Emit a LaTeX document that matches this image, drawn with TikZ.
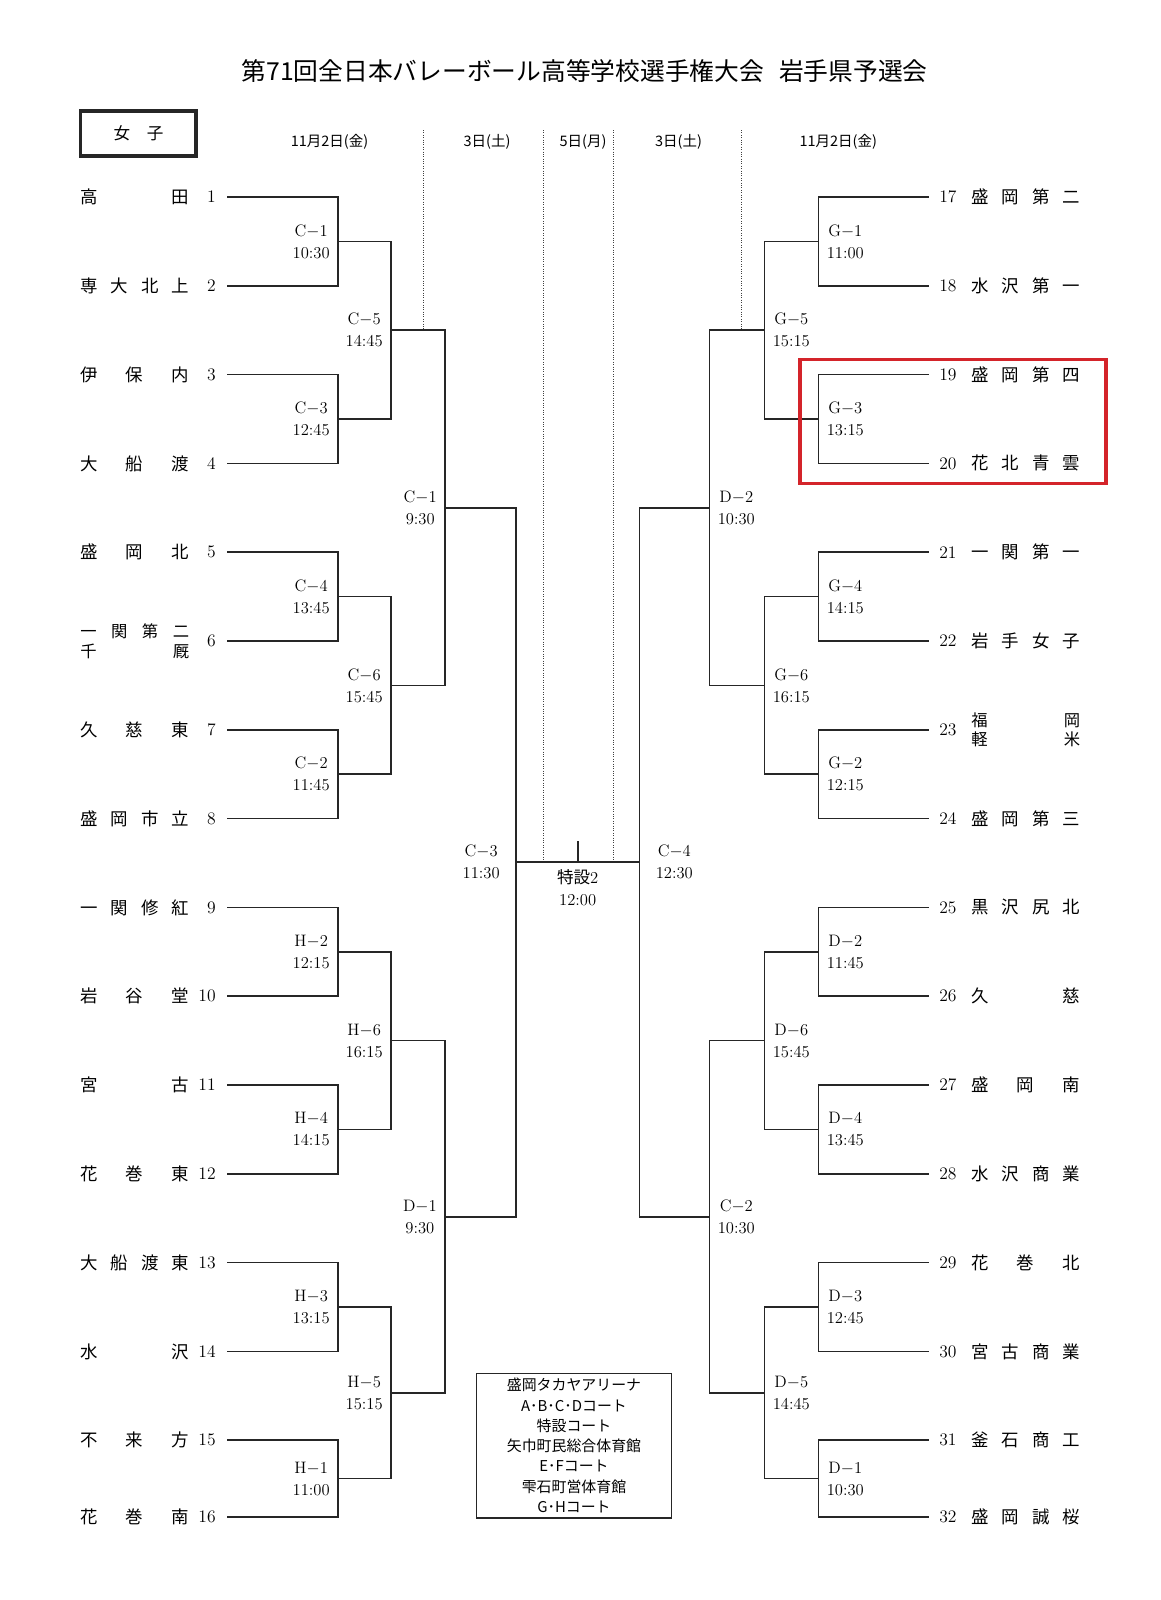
\documentclass[tikz,border=0pt]{standalone}
\usepackage{fontspec}
\newfontfamily\jpfont{Noto Sans CJK JP}
\usepackage{xcolor}
\usepackage{tikz}
\definecolor{markred}{RGB}{212,36,42}
\tikzset{
  brline/.style={line width=1.15pt, draw=black!85, line cap=rect},
  daysep/.style={line width=0.7pt, draw=black!75, densely dotted},
  tnum/.style={inner sep=0pt, font=\fontsize{12.5}{14}\selectfont},
  tname/.style={inner sep=0pt, anchor=west, font=\jpfont\fontsize{12.4}{14}\selectfont},
  tnametwo/.style={tname, align=left, font=\jpfont\fontsize{11.6}{14}\selectfont},
  mlabel/.style={inner sep=0pt, align=center, font=\fontsize{11.8}{15.6}\selectfont},
  mlabl/.style={mlabel, anchor=east, xshift=-0.2cm},
  mlabr/.style={mlabel, anchor=west, xshift=0.2cm},
  dayhead/.style={inner sep=0pt, font=\jpfont\fontsize{10.3}{12}\selectfont},
  hilite/.style={line width=2.2pt, draw=markred},
}
\newcommand{\teamname}[1]{\makebox[2.72cm]{#1}}

\begin{document}
\begin{tikzpicture}[x=0.025cm, y=-0.025cm]
\useasboundingbox (0,0) rectangle (1161,1600);

% heading
\node[font=\jpfont\fontsize{17.6}{20}\selectfont] (title) at (584.6,71.4)
  {第71回全日本バレーボール高等学校選手権大会\hspace{0.6em}岩手県予選会};
\draw[line width=2.3pt, draw=black!85] (80.5,111) rectangle (196,156);
\node[font=\jpfont\fontsize{11.8}{12}\selectfont] (sex) at (138.5,133) {女\quad 子};
\node[dayhead] (d1) at (329.5,141.8) {11月2日(金)};
\node[dayhead] (d2) at (487,141.8) {3日(土)};
\node[dayhead] (d3) at (583,141.8) {5日(月)};
\node[dayhead] (d4) at (678.5,141.8) {3日(土)};
\node[dayhead] (d5) at (838.3,141.8) {11月2日(金)};
\draw[daysep] (423,130) -- (423,330.2);
\draw[daysep] (543.3,130) -- (543.3,862.25);
\draw[daysep] (613.3,130) -- (613.3,862.25);
\draw[daysep] (741,130) -- (741,330.2);

% left teams
\node[tnum, anchor=east] (n1) at (216,197.0) {1};
\node[tname] (t1) at (80,197.0) {\teamname{高\hfill 田}};
\node[tnum, anchor=east] (n2) at (216,285.8) {2};
\node[tname] (t2) at (80,285.8) {\teamname{専\hfill 大\hfill 北\hfill 上}};
\node[tnum, anchor=east] (n3) at (216,374.6) {3};
\node[tname] (t3) at (80,374.6) {\teamname{伊\hfill 保\hfill 内}};
\node[tnum, anchor=east] (n4) at (216,463.4) {4};
\node[tname] (t4) at (80,463.4) {\teamname{大\hfill 船\hfill 渡}};
\node[tnum, anchor=east] (n5) at (216,552.2) {5};
\node[tname] (t5) at (80,552.2) {\teamname{盛\hfill 岡\hfill 北}};
\node[tnum, anchor=east] (n6) at (216,641.0) {6};
\node[tnametwo] (t6) at (80,641.0) {\teamname{一\hfill 関\hfill 第\hfill 二}\\\teamname{千\hfill 厩}};
\node[tnum, anchor=east] (n7) at (216,729.8) {7};
\node[tname] (t7) at (80,729.8) {\teamname{久\hfill 慈\hfill 東}};
\node[tnum, anchor=east] (n8) at (216,818.6) {8};
\node[tname] (t8) at (80,818.6) {\teamname{盛\hfill 岡\hfill 市\hfill 立}};
\node[tnum, anchor=east] (n9) at (216,907.4) {9};
\node[tname] (t9) at (80,907.4) {\teamname{一\hfill 関\hfill 修\hfill 紅}};
\node[tnum, anchor=east] (n10) at (216,996.2) {10};
\node[tname] (t10) at (80,996.2) {\teamname{岩\hfill 谷\hfill 堂}};
\node[tnum, anchor=east] (n11) at (216,1085.0) {11};
\node[tname] (t11) at (80,1085.0) {\teamname{宮\hfill 古}};
\node[tnum, anchor=east] (n12) at (216,1173.8) {12};
\node[tname] (t12) at (80,1173.8) {\teamname{花\hfill 巻\hfill 東}};
\node[tnum, anchor=east] (n13) at (216,1262.6) {13};
\node[tname] (t13) at (80,1262.6) {\teamname{大\hfill 船\hfill 渡\hfill 東}};
\node[tnum, anchor=east] (n14) at (216,1351.4) {14};
\node[tname] (t14) at (80,1351.4) {\teamname{水\hfill 沢}};
\node[tnum, anchor=east] (n15) at (216,1440.2) {15};
\node[tname] (t15) at (80,1440.2) {\teamname{不\hfill 来\hfill 方}};
\node[tnum, anchor=east] (n16) at (216,1517.0) {16};
\node[tname] (t16) at (80,1517.0) {\teamname{花\hfill 巻\hfill 南}};

% right teams
\node[tnum, anchor=west] (n17) at (939,197.0) {17};
\node[tname] (t17) at (971,197.0) {\teamname{盛\hfill 岡\hfill 第\hfill 二}};
\node[tnum, anchor=west] (n18) at (939,285.8) {18};
\node[tname] (t18) at (971,285.8) {\teamname{水\hfill 沢\hfill 第\hfill 一}};
\node[tnum, anchor=west] (n19) at (939,374.6) {19};
\node[tname] (t19) at (971,374.6) {\teamname{盛\hfill 岡\hfill 第\hfill 四}};
\node[tnum, anchor=west] (n20) at (939,463.4) {20};
\node[tname] (t20) at (971,463.4) {\teamname{花\hfill 北\hfill 青\hfill 雲}};
\node[tnum, anchor=west] (n21) at (939,552.2) {21};
\node[tname] (t21) at (971,552.2) {\teamname{一\hfill 関\hfill 第\hfill 一}};
\node[tnum, anchor=west] (n22) at (939,641.0) {22};
\node[tname] (t22) at (971,641.0) {\teamname{岩\hfill 手\hfill 女\hfill 子}};
\node[tnum, anchor=west] (n23) at (939,729.8) {23};
\node[tnametwo] (t23) at (971,729.8) {\teamname{福\hfill 岡}\\\teamname{軽\hfill 米}};
\node[tnum, anchor=west] (n24) at (939,818.6) {24};
\node[tname] (t24) at (971,818.6) {\teamname{盛\hfill 岡\hfill 第\hfill 三}};
\node[tnum, anchor=west] (n25) at (939,907.4) {25};
\node[tname] (t25) at (971,907.4) {\teamname{黒\hfill 沢\hfill 尻\hfill 北}};
\node[tnum, anchor=west] (n26) at (939,996.2) {26};
\node[tname] (t26) at (971,996.2) {\teamname{久\hfill 慈}};
\node[tnum, anchor=west] (n27) at (939,1085.0) {27};
\node[tname] (t27) at (971,1085.0) {\teamname{盛\hfill 岡\hfill 南}};
\node[tnum, anchor=west] (n28) at (939,1173.8) {28};
\node[tname] (t28) at (971,1173.8) {\teamname{水\hfill 沢\hfill 商\hfill 業}};
\node[tnum, anchor=west] (n29) at (939,1262.6) {29};
\node[tname] (t29) at (971,1262.6) {\teamname{花\hfill 巻\hfill 北}};
\node[tnum, anchor=west] (n30) at (939,1351.4) {30};
\node[tname] (t30) at (971,1351.4) {\teamname{宮\hfill 古\hfill 商\hfill 業}};
\node[tnum, anchor=west] (n31) at (939,1440.2) {31};
\node[tname] (t31) at (971,1440.2) {\teamname{釜\hfill 石\hfill 商\hfill 工}};
\node[tnum, anchor=west] (n32) at (939,1517.0) {32};
\node[tname] (t32) at (971,1517.0) {\teamname{盛\hfill 岡\hfill 誠\hfill 桜}};

% line ends of the teams
\coordinate (a1) at (228,197.0);   \coordinate (a17) at (928,197.0);
\coordinate (a2) at (228,285.8);   \coordinate (a18) at (928,285.8);
\coordinate (a3) at (228,374.6);   \coordinate (a19) at (928,374.6);
\coordinate (a4) at (228,463.4);   \coordinate (a20) at (928,463.4);
\coordinate (a5) at (228,552.2);   \coordinate (a21) at (928,552.2);
\coordinate (a6) at (228,641.0);   \coordinate (a22) at (928,641.0);
\coordinate (a7) at (228,729.8);   \coordinate (a23) at (928,729.8);
\coordinate (a8) at (228,818.6);   \coordinate (a24) at (928,818.6);
\coordinate (a9) at (228,907.4);   \coordinate (a25) at (928,907.4);
\coordinate (a10) at (228,996.2);  \coordinate (a26) at (928,996.2);
\coordinate (a11) at (228,1085.0); \coordinate (a27) at (928,1085.0);
\coordinate (a12) at (228,1173.8); \coordinate (a28) at (928,1173.8);
\coordinate (a13) at (228,1262.6); \coordinate (a29) at (928,1262.6);
\coordinate (a14) at (228,1351.4); \coordinate (a30) at (928,1351.4);
\coordinate (a15) at (228,1440.2); \coordinate (a31) at (928,1440.2);
\coordinate (a16) at (228,1517.0); \coordinate (a32) at (928,1517.0);

% match points
\coordinate (lm1) at (338,241.4);  \coordinate (rm1) at (818.5,241.4);
\coordinate (lm2) at (338,419.0);  \coordinate (rm2) at (818.5,419.0);
\coordinate (lm3) at (338,596.6);  \coordinate (rm3) at (818.5,596.6);
\coordinate (lm4) at (338,774.2);  \coordinate (rm4) at (818.5,774.2);
\coordinate (lm5) at (338,951.8);  \coordinate (rm5) at (818.5,951.8);
\coordinate (lm6) at (338,1129.4); \coordinate (rm6) at (818.5,1129.4);
\coordinate (lm7) at (338,1307.0); \coordinate (rm7) at (818.5,1307.0);
\coordinate (lm8) at (338,1478.6); \coordinate (rm8) at (818.5,1478.6);
\coordinate (lq1) at (391,330.2);  \coordinate (rq1) at (764.5,330.2);
\coordinate (lq2) at (391,685.4);  \coordinate (rq2) at (764.5,685.4);
\coordinate (lq3) at (391,1040.6); \coordinate (rq3) at (764.5,1040.6);
\coordinate (lq4) at (391,1392.8); \coordinate (rq4) at (764.5,1392.8);
\coordinate (ls1) at (445,507.8);  \coordinate (rs1) at (709.5,507.8);
\coordinate (ls2) at (445,1216.7); \coordinate (rs2) at (709.5,1216.7);
\coordinate (lf) at (516,862.25);  \coordinate (rf) at (639.5,862.25);
\coordinate (fmid) at (577.7,862.25);
\coordinate (ftop) at (577.7,841.7);

% bracket, left half
\draw[brline] (a1) -| (lm1) |- (a2);
\draw[brline] (a3) -| (lm2) |- (a4);
\draw[brline] (a5) -| (lm3) |- (a6);
\draw[brline] (a7) -| (lm4) |- (a8);
\draw[brline] (a9) -| (lm5) |- (a10);
\draw[brline] (a11) -| (lm6) |- (a12);
\draw[brline] (a13) -| (lm7) |- (a14);
\draw[brline] (a15) -| (lm8) |- (a16);
\draw[brline] (lm1) -| (lq1) |- (lm2);
\draw[brline] (lm3) -| (lq2) |- (lm4);
\draw[brline] (lm5) -| (lq3) |- (lm6);
\draw[brline] (lm7) -| (lq4) |- (lm8);
\draw[brline] (lq1) -| (ls1) |- (lq2);
\draw[brline] (lq3) -| (ls2) |- (lq4);
\draw[brline] (ls1) -| (lf) |- (ls2);

% bracket, right half
\draw[brline] (a17) -| (rm1) |- (a18);
\draw[brline] (a19) -| (rm2) |- (a20);
\draw[brline] (a21) -| (rm3) |- (a22);
\draw[brline] (a23) -| (rm4) |- (a24);
\draw[brline] (a25) -| (rm5) |- (a26);
\draw[brline] (a27) -| (rm6) |- (a28);
\draw[brline] (a29) -| (rm7) |- (a30);
\draw[brline] (a31) -| (rm8) |- (a32);
\draw[brline] (rm1) -| (rq1) |- (rm2);
\draw[brline] (rm3) -| (rq2) |- (rm4);
\draw[brline] (rm5) -| (rq3) |- (rm6);
\draw[brline] (rm7) -| (rq4) |- (rm8);
\draw[brline] (rq1) -| (rs1) |- (rq2);
\draw[brline] (rq3) -| (rs2) |- (rq4);
\draw[brline] (rs1) -| (rf) |- (rs2);

% final
\draw[brline] (lf) -- (rf);
\draw[brline] (fmid) -- (ftop);

% match labels
\node[mlabl] (lm1l) at (lm1) {C$-$1\\10:30};
\node[mlabl] (lm2l) at (lm2) {C$-$3\\12:45};
\node[mlabl] (lm3l) at (lm3) {C$-$4\\13:45};
\node[mlabl] (lm4l) at (lm4) {C$-$2\\11:45};
\node[mlabl] (lm5l) at (lm5) {H$-$2\\12:15};
\node[mlabl] (lm6l) at (lm6) {H$-$4\\14:15};
\node[mlabl] (lm7l) at (lm7) {H$-$3\\13:15};
\node[mlabl] (lm8l) at (lm8) {H$-$1\\11:00};
\node[mlabl] (lq1l) at (lq1) {C$-$5\\14:45};
\node[mlabl] (lq2l) at (lq2) {C$-$6\\15:45};
\node[mlabl] (lq3l) at (lq3) {H$-$6\\16:15};
\node[mlabl] (lq4l) at (lq4) {H$-$5\\15:15};
\node[mlabl] (ls1l) at (ls1) {C$-$1\\9:30};
\node[mlabl] (ls2l) at (ls2) {D$-$1\\9:30};
\node[mlabl, xshift=-0.2cm] (lfl) at (lf) {C$-$3\\11:30};
\node[mlabr] (rm1l) at (rm1) {G$-$1\\11:00};
\node[mlabr] (rm2l) at (rm2) {G$-$3\\13:15};
\node[mlabr] (rm3l) at (rm3) {G$-$4\\14:15};
\node[mlabr] (rm4l) at (rm4) {G$-$2\\12:15};
\node[mlabr] (rm5l) at (rm5) {D$-$2\\11:45};
\node[mlabr] (rm6l) at (rm6) {D$-$4\\13:45};
\node[mlabr] (rm7l) at (rm7) {D$-$3\\12:45};
\node[mlabr] (rm8l) at (rm8) {D$-$1\\10:30};
\node[mlabr] (rq1l) at (rq1) {G$-$5\\15:15};
\node[mlabr] (rq2l) at (rq2) {G$-$6\\16:15};
\node[mlabr] (rq3l) at (rq3) {D$-$6\\15:45};
\node[mlabr] (rq4l) at (rq4) {D$-$5\\14:45};
\node[mlabr] (rs1l) at (rs1) {D$-$2\\10:30};
\node[mlabr] (rs2l) at (rs2) {C$-$2\\10:30};
\node[mlabr, xshift=0.2cm] (rfl) at (rf) {C$-$4\\12:30};
\node[mlabel, anchor=north] (fml) at (577.7,869) {{\jpfont 特設}2\\12:00};

% venues
\draw[line width=1.1pt, draw=black!85] (476.7,1373.3) rectangle (671.7,1518);
\node[align=center, inner sep=0pt, font=\jpfont\fontsize{10.6}{14.4}\selectfont] (venue) at (574,1445.5)
  {盛岡タカヤアリーナ\\A･B･C･Dコート\\特設コート\\矢巾町民総合体育館\\E･Fコート\\雫石町営体育館\\G･Hコート};

% marked match
\draw[hilite] (800,359.5) rectangle (1106,483.5);
\end{tikzpicture}
\end{document}
